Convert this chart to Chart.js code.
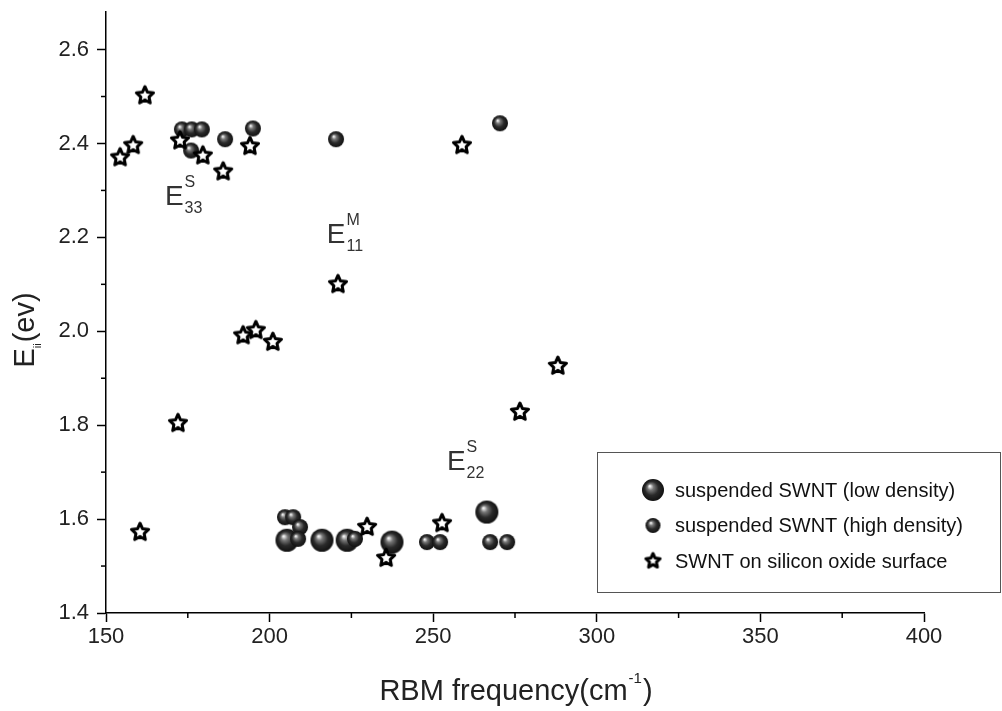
<!DOCTYPE html>
<html>
<head>
<meta charset="utf-8">
<script src="https://cdn.jsdelivr.net/npm/chart.js@4/dist/chart.umd.min.js"></script>
<style>
  body { margin: 0; background: #fff; }
  #wrap { width: 1002px; height: 711px; position: relative; }
</style>
</head>
<body>
<div id="wrap"><canvas id="grafico"></canvas></div>
<script>
// series: [RBM frequency, Eii]
const lowDensity = [
  [205.3, 1.555], [216.0, 1.555], [223.7, 1.555], [237.4, 1.551], [266.4, 1.615]
];
const highDensity = [
  [204.7, 1.604], [207.2, 1.604], [209.3, 1.583], [208.7, 1.558], [226.1, 1.558],
  [248.1, 1.551], [252.1, 1.551], [267.4, 1.551], [272.6, 1.551],
  [173.2, 2.430], [176.2, 2.430], [179.3, 2.430], [176.0, 2.385],
  [186.4, 2.409], [194.9, 2.432], [220.3, 2.409], [270.4, 2.443]
];
const oxideSurface = [
  [154.3, 2.370], [158.3, 2.396], [161.9, 2.502], [172.6, 2.406], [179.6, 2.374],
  [185.8, 2.340], [194.0, 2.394], [172.0, 1.804], [160.4, 1.572], [220.9, 2.100],
  [191.9, 1.991], [195.8, 2.002], [201.0, 1.977], [229.8, 1.583], [235.6, 1.517],
  [252.7, 1.591], [258.8, 2.396], [276.5, 1.828], [288.1, 1.926]
];
const seriesLabels = [
  'suspended SWNT (low density)',
  'suspended SWNT (high density)',
  'SWNT on silicon oxide surface'
];
const xTicks = [150, 200, 250, 300, 350, 400];
const xMinorTicks = [175, 225, 275, 325, 375];
const yTicks = [1.4, 1.6, 1.8, 2.0, 2.2, 2.4, 2.6];
const yMinorTicks = [1.5, 1.7, 1.9, 2.1, 2.3, 2.5];
// transition labels: [x, y, main, sup, sub]
const transitions = [
  [168.0, 2.268, 'E', 'S', '33'],
  [217.5, 2.187, 'E', 'M', '11'],
  [254.2, 1.704, 'E', 'S', '22']
];
const xTitle = ['RBM frequency(cm', '-1', ')'];
const yTitle = ['E', 'ii', '(ev)'];

const FONT = '"Liberation Sans", Arial, sans-serif';

// sphere marker
function sphere(r) {
  const c = document.createElement('canvas');
  c.width = c.height = 2 * r + 2;
  const g = c.getContext('2d');
  const cx = r + 1, cy = r + 1;
  const grad = g.createRadialGradient(cx - r * 0.3, cy - r * 0.35, r * 0.05, cx, cy, r);
  grad.addColorStop(0, '#f4f4f4');
  grad.addColorStop(0.25, '#777');
  grad.addColorStop(0.6, '#2a2a2a');
  grad.addColorStop(1, '#111');
  g.fillStyle = grad;
  g.beginPath();
  g.arc(cx, cy, r, 0, Math.PI * 2);
  g.fill();
  return c;
}

// hollow five point star marker
function star(R) {
  const c = document.createElement('canvas');
  c.width = c.height = 2 * R + 6;
  const g = c.getContext('2d');
  const cx = R + 3, cy = R + 3;
  g.beginPath();
  for (let i = 0; i < 10; i++) {
    const rad = i % 2 === 0 ? R : R * 0.48;
    const a = -Math.PI / 2 + i * Math.PI / 5;
    const px = cx + rad * Math.cos(a), py = cy + rad * Math.sin(a);
    if (i === 0) g.moveTo(px, py); else g.lineTo(px, py);
  }
  g.closePath();
  g.fillStyle = '#fff';
  g.fill();
  g.lineWidth = 3;
  g.lineJoin = 'round';
  g.strokeStyle = '#000';
  g.stroke();
  return c;
}

const bigSphere = sphere(11.5);
const smallSphere = sphere(8);
const starMark = star(9);
const legendBig = sphere(11);
const legendSmall = sphere(7.5);
const legendStar = star(7.5);

const toPts = arr => arr.map(p => ({ x: p[0], y: p[1] }));

// minor ticks, transition labels, axis titles and legend box
const extras = {
  id: 'extras',
  afterDraw(chart) {
    const ctx = chart.ctx;
    const xs = chart.scales.x, ys = chart.scales.y;
    const area = chart.chartArea;
    ctx.save();
    ctx.strokeStyle = '#000';
    ctx.lineWidth = 1.5;
    xMinorTicks.forEach(v => {
      const px = xs.getPixelForValue(v);
      ctx.beginPath(); ctx.moveTo(px, area.bottom); ctx.lineTo(px, area.bottom + 5); ctx.stroke();
    });
    yMinorTicks.forEach(v => {
      const py = ys.getPixelForValue(v);
      ctx.beginPath(); ctx.moveTo(area.left, py); ctx.lineTo(area.left - 5, py); ctx.stroke();
    });

    // transition labels
    ctx.fillStyle = '#333';
    ctx.textBaseline = 'alphabetic';
    ctx.textAlign = 'left';
    transitions.forEach(t => {
      const px = xs.getPixelForValue(t[0]);
      const py = ys.getPixelForValue(t[1]);
      ctx.font = '28px ' + FONT;
      ctx.fillText(t[2], px, py);
      const w = ctx.measureText(t[2]).width;
      ctx.font = '16px ' + FONT;
      ctx.fillText(t[3], px + w + 1, py - 18);
      ctx.fillText(t[4], px + w + 1, py + 8);
    });

    // x title
    ctx.fillStyle = '#222';
    ctx.font = '29px ' + FONT;
    const w1 = ctx.measureText(xTitle[0]).width;
    ctx.font = '15px ' + FONT;
    const w2 = ctx.measureText(xTitle[1]).width;
    ctx.font = '29px ' + FONT;
    const w3 = ctx.measureText(xTitle[2]).width;
    let sx = (area.left + area.right) / 2 - (w1 + w2 + w3) / 2;
    const by = 700;
    ctx.fillText(xTitle[0], sx, by);
    ctx.font = '15px ' + FONT;
    ctx.fillText(xTitle[1], sx + w1 + 1, by - 17);
    ctx.font = '29px ' + FONT;
    ctx.fillText(xTitle[2], sx + w1 + w2 + 2, by);

    // y title
    ctx.save();
    ctx.translate(34, (area.top + area.bottom) / 2 + 18);
    ctx.rotate(-Math.PI / 2);
    ctx.font = '29px ' + FONT;
    const e1 = ctx.measureText(yTitle[0]).width;
    ctx.font = '11px ' + FONT;
    const e2 = ctx.measureText(yTitle[1]).width;
    ctx.font = '29px ' + FONT;
    const e3 = ctx.measureText(yTitle[2]).width;
    let sy = -(e1 + e2 + e3) / 2;
    ctx.fillText(yTitle[0], sy, 0);
    ctx.font = '11px ' + FONT;
    ctx.fillText(yTitle[1], sy + e1, 7);
    ctx.font = '29px ' + FONT;
    ctx.fillText(yTitle[2], sy + e1 + e2 + 1, 0);
    ctx.restore();

    // legend
    const lx = 597, ly = 452, lw = 403, lh = 140;
    ctx.strokeStyle = '#555';
    ctx.lineWidth = 1;
    ctx.strokeRect(lx + 0.5, ly + 0.5, lw, lh);
    const icons = [legendBig, legendSmall, legendStar];
    ctx.font = '20px ' + FONT;
    ctx.fillStyle = '#111';
    ctx.textBaseline = 'middle';
    chart.data.datasets.forEach((ds, i) => {
      const cy = 490 + i * 35.5;
      const img = icons[i];
      ctx.drawImage(img, 653 - img.width / 2, cy - img.height / 2);
      ctx.fillText(ds.label, 675, cy + 1);
    });
    ctx.restore();
  }
};

const ctx = document.getElementById('grafico').getContext('2d');
new Chart(ctx, {
  type: 'scatter',
  data: {
    datasets: [
      { label: seriesLabels[0], data: toPts(lowDensity), pointStyle: bigSphere, order: 3 },
      { label: seriesLabels[1], data: toPts(highDensity), pointStyle: smallSphere, order: 2 },
      { label: seriesLabels[2], data: toPts(oxideSurface), pointStyle: starMark, order: 1 }
    ]
  },
  options: {
    responsive: true,
    maintainAspectRatio: false,
    animation: false,
    layout: { padding: { top: 12, right: 78, left: 0, bottom: 0 } },
    plugins: {
      legend: { display: false },
      tooltip: { enabled: false }
    },
    scales: {
      x: {
        type: 'linear',
        min: 150,
        max: 400,
        afterFit: s => { s.height = 98; s.paddingLeft = 0; s.paddingRight = 0; },
        afterBuildTicks: s => { s.ticks = xTicks.map(v => ({ value: v })); },
        grid: { drawOnChartArea: false, drawTicks: true, tickLength: 9, tickColor: '#000', tickWidth: 1.5 },
        border: { display: true, color: '#000', width: 1.5 },
        ticks: { color: '#222', font: { family: FONT, size: 22 }, padding: 2, maxRotation: 0 }
      },
      y: {
        type: 'linear',
        min: 1.4,
        max: 2.68,
        afterFit: s => { s.width = 106; s.paddingTop = 0; s.paddingBottom = 0; },
        afterBuildTicks: s => { s.ticks = yTicks.map(v => ({ value: v })); },
        grid: { drawOnChartArea: false, drawTicks: true, tickLength: 9, tickColor: '#000', tickWidth: 1.5 },
        border: { display: true, color: '#000', width: 1.5 },
        ticks: { color: '#222', font: { family: FONT, size: 22 }, padding: 8, callback: v => v.toFixed(1) }
      }
    }
  },
  plugins: [extras]
});
</script>
</body>
</html>
